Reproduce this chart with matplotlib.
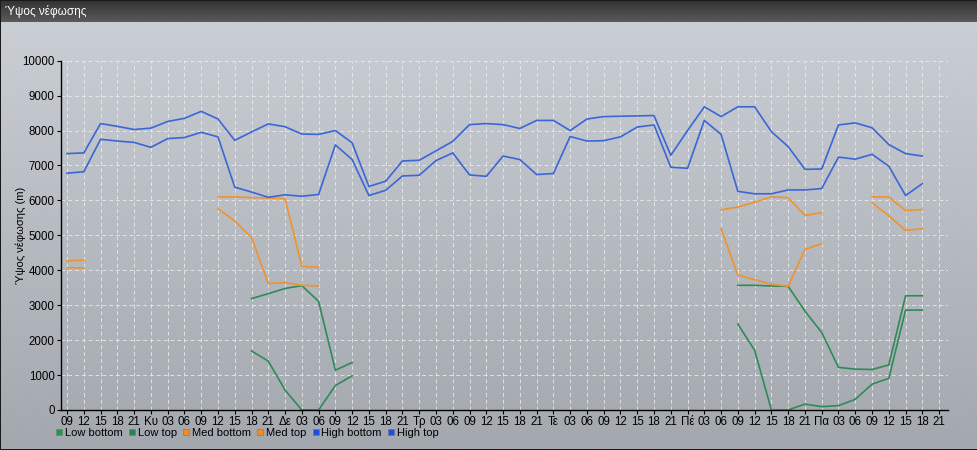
import numpy as np
import matplotlib
matplotlib.use('Agg')
import matplotlib.pyplot as plt
from matplotlib.lines import Line2D

plt.rcParams['font.family'] = ['Liberation Sans', 'DejaVu Sans']

n = np.nan

# x tick labels (3-hourly, day names at midnight)
tick_labels = ['09', '12', '15', '18', '21',
               'Κυ', '03', '06', '09', '12', '15', '18', '21',
               'Δε', '03', '06', '09', '12', '15', '18', '21',
               'Τρ', '03', '06', '09', '12', '15', '18', '21',
               'Τε', '03', '06', '09', '12', '15', '18', '21',
               'Πέ', '03', '06', '09', '12', '15', '18', '21',
               'Πα', '03', '06', '09', '12', '15', '18', '21']

high_top = [7340, 7360, 8200, 8120, 8030, 8070, 8260, 8350, 8550, 8330,
            7720, 7960, 8190, 8110, 7900, 7890, 8000, 7650, 6400, 6550,
            7130, 7150, 7420, 7690, 8170, 8200, 8170, 8060, 8290, 8290,
            8000, 8330, 8400, 8410, 8420, 8430, 7290, 8000, 8680, 8400,
            8680, 8680, 7970, 7540, 6890, 6900, 8160, 8220, 8080, 7600,
            7340, 7270]
high_bottom = [6780, 6820, 7750, 7700, 7660, 7520, 7770, 7800, 7950, 7820,
               6380, 6240, 6090, 6160, 6120, 6170, 7590, 7170, 6140, 6290,
               6700, 6720, 7140, 7360, 6730, 6690, 7270, 7170, 6740, 6770,
               7830, 7700, 7710, 7820, 8100, 8160, 6950, 6920, 8290, 7890,
               6260, 6190, 6190, 6300, 6300, 6340, 7240, 7180, 7320, 6980,
               6140, 6480]
med_top = [4270, 4290, n, n, n, n, n, n, n, 6100, 6100, 6080, 6070, 6050, 4110, 4090] + [n] * 23 + \
          [5730, 5810, 5950, 6100, 6080, 5570, 5650, n, n, 6100, 6100, 5710, 5740]
med_bottom = [4070, 4070, n, n, n, n, n, n, n, 5760, 5410, 4940, 3620, 3650, 3570, 3550] + [n] * 23 + \
             [5190, 3860, 3730, 3600, 3540, 4600, 4760, n, n, 5930, 5560, 5140, 5190]
low_top = [n] * 11 + [3190, 3330, 3480, 3560, 3110, 1140, 1360] + [n] * 22 + \
          [3570, 3570, 3550, 3540, 2830, 2220, 1220, 1170, 1160, 1290, 3270, 3270]
low_bottom = [n] * 11 + [1690, 1400, 570, 0, 0, 700, 980] + [n] * 22 + \
             [2460, 1710, 0, 0, 170, 95, 125, 305, 740, 905, 2860, 2860]

series = [('Low bottom', low_bottom, '#2e8b57', '#1c9a4c'),
          ('Low top', low_top, '#2e8b57', '#23874f'),
          ('Med bottom', med_bottom, '#f0922e', '#f58a1f'),
          ('Med top', med_top, '#f0922e', '#f58a1f'),
          ('High bottom', high_bottom, '#3b66d6', '#1d4ee2'),
          ('High top', high_top, '#3b66d6', '#1d4ee2')]

W, H = 978, 450
fig = plt.figure(figsize=(W / 100, H / 100), dpi=100)

# background: gradient + diagonal stripes + title bar
bg_ax = fig.add_axes([0, 0, 1, 1])
rows = np.arange(H)[:, None]
cols = np.arange(W)[None, :]
t = (rows / H)
top_c = np.array([0.815, 0.827, 0.843])
bot_c = np.array([0.655, 0.670, 0.690])
img = top_c[None, None, :] * (1 - t[..., None]) + bot_c[None, None, :] * t[..., None]
img = np.broadcast_to(img, (H, W, 3)).copy()
stripe = ((cols + rows) % 3 == 0)
img[stripe] -= np.array([0.045, 0.035, 0.015])
bar = 22
tb = np.linspace(0.20, 0.35, bar)[:, None, None]
img[:bar] = np.broadcast_to(tb, (bar, W, 1)).repeat(3, axis=2)
img[0, :] = 0.1
img[-1, :] = 0.1
img[:, 0] = 0.1
img[:, -1] = 0.1
bg_ax.imshow(np.clip(img, 0, 1), aspect='auto', interpolation='nearest', extent=(0, W, H, 0))
bg_ax.set_xlim(0, W)
bg_ax.set_ylim(H, 0)
bg_ax.axis('off')

fig.text(5 / W, 1 - 12 / H, 'Ύψος νέφωσης', color='white', fontsize=8.5, va='center', ha='left')

ax = fig.add_axes([61 / W, 1 - 410 / H, (948 - 61) / W, (410 - 60.7) / H])
ax.patch.set_alpha(0)
x = np.arange(len(high_top))
for name, vals, lc, mc in series:
    ax.plot(x, vals, color=lc, lw=1.2)

ax.set_ylim(0, 10000)
ax.set_xlim(-0.36, 52.53)
ax.set_yticks(np.arange(0, 10001, 1000))
ax.set_xticks(np.arange(len(tick_labels)))
ax.set_xticklabels(tick_labels)
ax.tick_params(axis='both', labelsize=8.3, colors='black', length=3, width=0.8, pad=1.5)
ax.grid(True, color='#eeeeee', ls=(0, (4, 3)), lw=0.7, alpha=0.8)
for s in ['top', 'right']:
    ax.spines[s].set_visible(False)
for s in ['left', 'bottom']:
    ax.spines[s].set_color('black')
    ax.spines[s].set_linewidth(1)
ax.set_ylabel('Ύψος νέφωσης (m)', fontsize=8)
ax.yaxis.set_label_coords((26 - 61) / (948 - 61), 0.5)

handles = [Line2D([], [], ls='none', marker='s', markersize=5, markerfacecolor=mc,
                  markeredgecolor='#777777', markeredgewidth=0.4, label=name)
           for name, vals, lc, mc in series]
fig.legend(handles=handles, loc='center left', bbox_to_anchor=(56 / W, 1 - 433 / H), ncol=6,
           frameon=False, fontsize=8, handlelength=0.6, handletextpad=0.2,
           columnspacing=0.55, borderaxespad=0, borderpad=0)

fig.savefig('out.png', dpi=100)
